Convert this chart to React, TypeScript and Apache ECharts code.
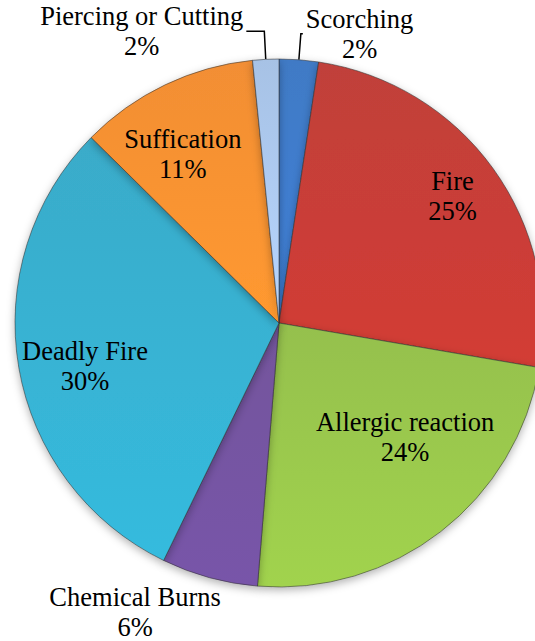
import React, { useEffect, useRef } from "react";
import * as echarts from "echarts";

const names = [
  "Scorching",
  "Fire",
  "Allergic reaction",
  "Chemical Burns",
  "Deadly Fire",
  "Suffication",
  "Piercing or Cutting",
];
const values = [2.4, 25.3, 23.6, 5.9, 30.2, 11.0, 1.6];
const colors = ["#3873c2", "#bd3630", "#90bd45", "#6c4b97", "#30a7c7", "#f2892a", "#a3bfe4"];
const outsideLabels = [0, 3, 6];

const FONT = "Liberation Serif";

export default function App() {
  const ref = useRef<HTMLDivElement>(null);
  useEffect(() => {
    if (!ref.current) return;
    const chart = echarts.init(ref.current, undefined, { renderer: "svg" });

    const labelText = {
      fontFamily: FONT,
      fontSize: 26.5,
      lineHeight: 30,
      color: "#000",
    };
    const formatter = (p: any) => `${p.name}\n${Math.round(p.percent)}%`;

    const lineCfg: Record<number, any> = {
      0: { show: true, length: 26, length2: 2 },
      3: { show: false, length: 36, length2: 0 },
      6: { show: true, length: 28, length2: 18 },
    };
    // side of the pie each outside label lies on: +1 right, -1 left
    const side: Record<number, number> = { 0: 1, 3: -1, 6: -1 };
    // fine nudges of label placement
    const outsideNudge: Record<number, [number, number]> = { 0: [0, 0], 3: [24, 0], 6: [0, 0] };
    const insideNudge: Record<number, [number, number]> = {
      1: [4, -5],
      2: [-2, -51],
      4: [12, 8],
      5: [-6, 20],
    };

    const mainData = names.map((n, i) => ({
      name: n,
      value: values[i],
      itemStyle: {
        color: {
          type: "linear",
          x: 0,
          y: 0,
          x2: 0,
          y2: 1,
          colorStops: [
            { offset: 0, color: echarts.color.lift(colors[i], 0.05) },
            { offset: 1, color: echarts.color.lift(colors[i], -0.12) },
          ],
        },
      },
      label: { show: outsideLabels.includes(i) },
      labelLine: {
        ...(lineCfg[i] || { show: false }),
        lineStyle: { color: "#000", width: 1.5 },
      },
    }));

    const overlayData = names.map((n, i) => ({
      name: n,
      value: values[i],
      label: { show: !outsideLabels.includes(i) },
    }));

    chart.setOption({
      animation: false,
      backgroundColor: "#fff",
      textStyle: { fontFamily: FONT },
      series: [
        {
          type: "pie",
          center: [279, 323],
          radius: [0, 264],
          startAngle: 90,
          clockwise: true,
          avoidLabelOverlap: false,
          silent: true,
          itemStyle: {
            borderColor: "rgba(50,50,50,0.55)",
            borderWidth: 1,
            shadowBlur: 8,
            shadowColor: "rgba(0,0,0,0.3)",
            shadowOffsetY: 3,
          },
          label: {
            position: "outside",
            formatter,
            ...labelText,
            distanceToLabelLine: 3,
          },
          labelLayout: (p: any) => {
            const s = side[p.dataIndex];
            if (s == null) return {};
            const w = p.labelRect.width;
            const [nx, ny] = outsideNudge[p.dataIndex];
            return { align: "center", dx: (s * w) / 2 + nx, dy: ny };
          },
          data: mainData,
        },
        {
          type: "pie",
          center: [279, 323],
          radius: [148, 264],
          startAngle: 90,
          clockwise: true,
          avoidLabelOverlap: false,
          silent: true,
          z: 5,
          itemStyle: { color: "rgba(0,0,0,0)", borderWidth: 0 },
          label: { position: "inside", formatter, ...labelText },
          labelLine: { show: false },
          labelLayout: (p: any) => {
            const n = insideNudge[p.dataIndex];
            return n ? { dx: n[0], dy: n[1] } : {};
          },
          data: overlayData,
        },
      ],
    });
    return () => chart.dispose();
  }, []);
  return (
    <div
      ref={ref}
      style={{ position: "absolute", left: 0, top: 0, width: 535, height: 641 }}
    />
  );
}
